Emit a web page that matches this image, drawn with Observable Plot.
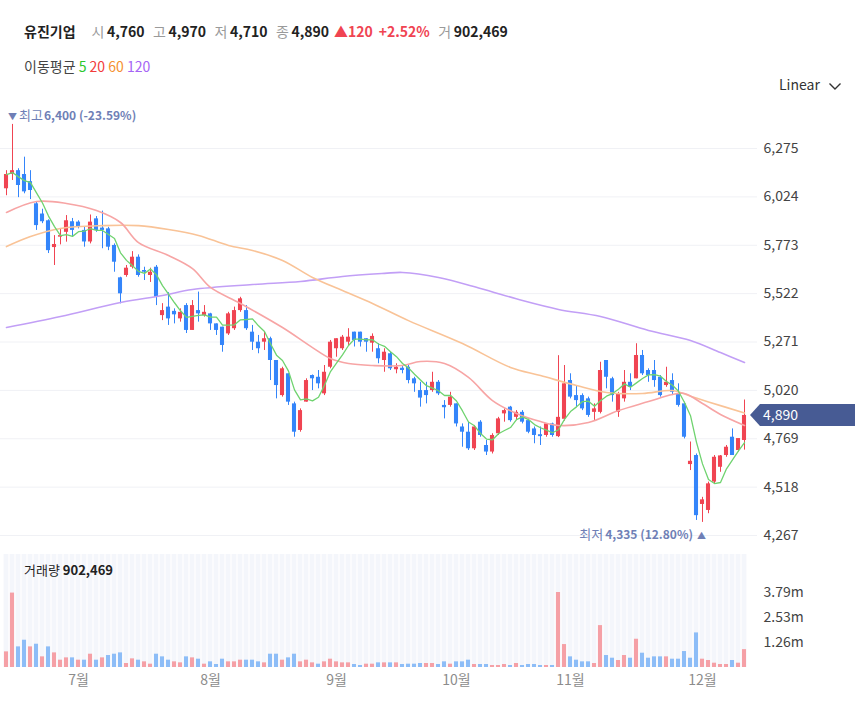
<!DOCTYPE html>
<html><head><meta charset="utf-8">
<script src="https://cdn.jsdelivr.net/npm/d3@7"></script>
<script src="https://cdn.jsdelivr.net/npm/@observablehq/plot@0.6"></script>
<style>
body{margin:0;background:#fff;font-family:"Noto Sans CJK KR","Noto Sans",sans-serif;}
#wrap{position:relative;width:855px;height:701px;overflow:hidden;background:#fff;}
.abs{position:absolute;white-space:nowrap;}
#h1{left:24px;top:21px;font-size:14px;line-height:20px;color:#222;}
#h1 .t{font-weight:700;}
#h1 .l{color:#9a9a9a;margin-left:8.5px;margin-right:2.5px;}
#h1 .n{font-weight:700;}
#h1 .r{color:#f04452;font-weight:700;}
#h2{left:24px;top:56px;font-size:14px;line-height:20px;color:#444;}
#lin{left:779px;top:74px;font-size:14px;line-height:20px;color:#333;}
#vl{left:24px;top:560px;font-size:13px;line-height:20px;color:#222;z-index:2;}
#pc{position:absolute;left:0;top:95px;}
#vc{position:absolute;left:0;top:550px;}
</style></head>
<body><div id="wrap">
<div id="pc"></div><div id="vc"></div>
<div class="abs" id="h1"><span class="t">유진기업</span><span class="l" style="margin-left:16px">시</span><span class="n">4,760</span><span class="l">고</span><span class="n">4,970</span><span class="l">저</span><span class="n">4,710</span><span class="l">종</span><span class="n">4,890</span><span class="r" style="margin-left:5px">▲120</span><span class="r" style="margin-left:6px">+2.52%</span><span class="l">거</span><span class="n">902,469</span></div>
<div class="abs" id="h2">이동평균 <span style="color:#2cc72c">5</span> <span style="color:#f23c3c">20</span> <span style="color:#f5902f">60</span> <span style="color:#a564f5">120</span></div>
<div class="abs" id="lin">Linear <svg width="14" height="10" style="margin-left:5px;vertical-align:middle"><polyline points="1.5,2.5 7,8 12.5,2.5" fill="none" stroke="#333" stroke-width="1.4"/></svg></div>
<div class="abs" id="vl">거래량 <b>902,469</b></div>
</div>
<script>
// ---- data ----
const open  = [6066,6140,6160,6140,6103,5988,5935,5900,5761,5815, 5840,5895,5893,5850,5790,5910,5862,5858,5772,5604,
               5616,5659,5711,5642,5616,5659,5408,5452,5430,5391, 5460,5331,5434,5408,5417,5365,5348,5313,5340,5434,
               5434,5322,5270,5270,5288,5175,4993,5106,4950,4812, 4959,5097,5088,5002,5140,5236,5236,5270,5322,5322,
               5288,5265,5236,5175,5210,5127,5135,5140,5080,5019, 5019,5019,5062,4942,4942,4950,4830,4803,4717,4855,
               4734,4700,4795,4898,4933,4880,4906,4863,4820,4790, 4786,4846,4780,4870,5071,4993,4993,4976,4906,4906,
               5175,5080,4906,4976,5062,5080,5201,5123,5123,5088, 5045,5071,5002,4950,4635,4682,4428,4397,4544,4621,
               4682,4777,4708,4760];
const high  = [6160,6400,6170,6230,6160,5995,5960,5905,5823,5860, 5927,5912,5900,5866,5930,5922,5950,5866,5780,5607,
               5668,5740,5723,5659,5654,5668,5470,5527,5443,5443, 5470,5486,5530,5460,5420,5365,5348,5425,5452,5503,
               5460,5357,5305,5322,5296,5175,5140,5106,4959,4924, 5080,5100,5123,5149,5279,5288,5305,5340,5322,5322,
               5288,5313,5262,5236,5218,5158,5149,5149,5088,5062, 5062,5114,5071,4967,5010,4950,4846,4855,4838,4863,
               4760,4795,4880,4924,4937,4915,4915,4872,4830,4830, 4846,4850,5200,5149,5106,5045,5002,4985,4950,5166,
               5175,5088,5010,5123,5106,5262,5227,5132,5175,5097, 5140,5106,5054,4959,4752,4690,4465,4544,4682,4682,
               4734,4820,4768,4970];
const low   = [6030,6109,6020,6040,6010,5850,5885,5730,5668,5775, 5789,5815,5858,5763,5780,5840,5755,5745,5633,5469,
               5607,5650,5607,5590,5580,5460,5382,5357,5365,5374, 5315,5331,5374,5400,5331,5305,5218,5305,5331,5425,
               5331,5227,5210,5227,5071,4976,4985,4942,4777,4803, 4959,5019,5028,4993,5132,5192,5227,5253,5245,5245,
               5218,5218,5158,5114,5123,5106,5106,5054,5010,4933, 4950,5010,4993,4872,4933,4830,4725,4708,4708,4777,
               4682,4690,4786,4855,4855,4863,4846,4795,4743,4734, 4777,4777,4775,4860,4976,4933,4915,4880,4863,4898,
               5028,4959,4880,4959,5019,5080,5097,5062,5036,4985, 5036,4993,4933,4768,4604,4345,4335,4380,4535,4595,
               4673,4682,4700,4710];
const close = [6140,6160,6083,6050,6057,5875,5895,5745,5777,5823, 5900,5850,5866,5790,5893,5850,5850,5763,5685,5521,
               5654,5711,5616,5633,5633,5503,5434,5391,5412,5425, 5331,5460,5417,5425,5365,5331,5253,5417,5434,5495,
               5340,5270,5236,5288,5175,5045,5132,4959,4803,4915, 5071,5080,5054,5114,5270,5288,5296,5296,5279,5270,
               5270,5300,5184,5218,5132,5140,5123,5071,5054,4980, 4993,5062,5002,4930,4985,4846,4803,4717,4830,4786,
               4700,4786,4872,4915,4863,4906,4855,4803,4786,4780, 4846,4786,4880,5054,4985,4967,4924,4890,4924,5123,
               5088,4993,5002,5062,5036,5201,5106,5097,5071,4993, 5062,5010,4942,4777,4652,4370,4452,4535,4673,4680,
               4725,4682,4770,4890];
const volume = [790,3760,1042,1378,1042,1176,538,1042,739,370, 487,487,370,370,672,370,487,605,672,739,
                202,437,370,286,168,672,538,370,286,235, 538,487,420,168,286,151,420,286,286,370,
                370,370,286,235,672,672,370,487,672,286, 370,235,168,286,420,286,235,235,151,100,
                168,168,235,235,235,235,151,168,168,202, 202,202,151,286,168,286,286,370,151,151,
                151,100,100,151,100,202,100,151,151,100, 100,100,3789,1159,538,370,286,286,202,2117,
                605,470,353,605,470,1428,722,470,538,538, 538,420,420,806,470,1747,420,353,218,151,
                151,353,218,902.469].map(v => v * 1000);
// moving averages (index, value)
const ma20Idx = [0,5,10,15,19,22,27,31,34,39,46,51,54,57,61,66,69,73,77,81,85,89,92,97,102,107,111,113,116,119,123];
const ma20Val = [5943,6000,5990,5953,5891,5787,5720,5652,5554,5471,5346,5242,5185,5159,5149,5149,5170,5159,5087,4967,4900,4858,4838,4853,4915,4962,4999,5004,4952,4895,4838];
const ma60Idx = [0,4,9,16,22,27,32,37,41,46,51,56,61,67,76,84,89,95,100,106,111,114,117,123];
const ma60Val = [5766,5818,5860,5875,5875,5855,5824,5772,5746,5694,5606,5538,5471,5382,5263,5139,5097,5045,5009,5004,5019,4990,4960,4903];
const ma120Idx = [0,9,19,26,31,41,49,56,63,66,72,79,86,92,99,107,114,119,123];
const ma120Val = [5346,5403,5476,5512,5543,5569,5585,5611,5627,5632,5606,5549,5486,5440,5403,5331,5279,5216,5165];
const yTicks = [4267,4518,4769,5020,5271,5522,5773,6024,6275];
const volTicks = [1263000,2526000,3789000];
const monthLabels = ["7월","8월","9월","10월","11월","12월"];
const monthIdx = [12,34,55,75,94,116];

// ---- build ----
const RED = "#f04452", BLUE = "#3485fa";
const N = close.length;
const data = close.map((c, i) => ({
  i, open: open[i], high: high[i], low: low[i], close: c, vol: volume[i],
  up: c >= open[i], volUp: i === 0 ? true : c >= close[i - 1]
}));
const ma = (idx, val) => idx.map((i, k) => ({i, v: val[k]}));
const font = '"Noto Sans CJK KR","Noto Sans",sans-serif';
const PH = 455;
// y mapping: tick 6275 at 53px, 48.375px per 251
const yHi = 6275 + 53 / 48.375 * 251, yLo = 6275 - (PH - 53) / 48.375 * 251;

const price = Plot.plot({
  width: 855, height: PH, marginLeft: 0, marginRight: 98, marginTop: 0, marginBottom: 0,
  style: {fontFamily: font, fontSize: "14px", color: "#444", background: "transparent", overflow: "visible"},
  x: {type: "linear", domain: [-0.5, N - 0.5], range: [3, 747], axis: null},
  y: {domain: [yLo, yHi], range: [PH, 0]},
  color: {type: "identity"},
  marks: [
    Plot.ruleY(yTicks, {stroke: "#f0f1f5"}),
    Plot.axisY({anchor: "right", ticks: yTicks, tickSize: 0, tickPadding: 6, tickFormat: d3.format(","), label: null, fontSize: 14, color: "#444"}),
    Plot.ruleX(data, {x: "i", y1: "low", y2: "high", stroke: d => d.up ? RED : BLUE, strokeWidth: 1}),
    Plot.rect(data, {x1: d => d.i - 0.34, x2: d => d.i + 0.34, y1: "open", y2: "close", fill: d => d.up ? RED : BLUE}),
    Plot.line(ma(ma120Idx, ma120Val), {x: "i", y: "v", stroke: "#c29ff6", strokeWidth: 1.6, curve: "catmull-rom"}),
    Plot.line(ma(ma60Idx, ma60Val), {x: "i", y: "v", stroke: "#f9c397", strokeWidth: 1.6, curve: "catmull-rom"}),
    Plot.line(ma(ma20Idx, ma20Val), {x: "i", y: "v", stroke: "#f7a5a5", strokeWidth: 1.6, curve: "catmull-rom"}),
    Plot.lineY(data, Plot.windowY({k: 5, anchor: "end"}, {x: "i", y: "close", stroke: "#6fd36f", strokeWidth: 1.3}))
  ]
});
document.getElementById("pc").appendChild(price);

// annotations driven by the scales
const xs = price.scale("x"), ys = price.scale("y");
const svgP = d3.select(price);
const last = data[N - 1];
const hiD = data.reduce((a, b) => b.high > a.high ? b : a);
const loD = data.reduce((a, b) => b.low < a.low ? b : a);
const pct = v => { const p = (last.close - v) / v * 100; return (p >= 0 ? "" : "-") + Math.abs(p).toFixed(2) + "%"; };
const ANN = "#6f7fb6";
{
  const cx = xs.apply(hiD.i), cy = ys.apply(hiD.high) - 8;
  const t = svgP.append("text").attr("x", cx - 4).attr("y", cy + 4.5).attr("fill", ANN).attr("text-anchor", "start")
    .style("font-family", font).style("font-size", "13px");
  t.append("tspan").text("▼").style("font-size", "9px");
  t.append("tspan").attr("dx", 2).text("최고");
  t.append("tspan").attr("dx", 1).style("font-weight", "700").style("font-size", "12px").text(d3.format(",")(hiD.high) + " (" + pct(hiD.high) + ")");
}
{
  const cx = xs.apply(loD.i), cy = ys.apply(loD.low) + 13;
  const t = svgP.append("text").attr("x", cx + 4).attr("y", cy + 4.5).attr("fill", ANN).attr("text-anchor", "end")
    .style("font-family", font).style("font-size", "13px");
  t.append("tspan").text("최저");
  t.append("tspan").attr("dx", 2).style("font-weight", "700").style("font-size", "12px").text(d3.format(",")(loD.low) + " (" + pct(loD.low) + ")");
  t.append("tspan").attr("dx", 4).text("▲").style("font-size", "9px");
}
{
  const y0 = ys.apply(last.close);
  const g = svgP.append("g");
  g.append("path").attr("fill", "#475b94")
    .attr("d", `M750,${y0} L760,${y0 - 11} L855,${y0 - 11} L855,${y0 + 11} L760,${y0 + 11} Z`);
  g.append("text").attr("x", 763).attr("y", y0 + 5).attr("fill", "#fff").attr("text-anchor", "start")
    .style("font-family", font).style("font-size", "14px").text(d3.format(",")(last.close));
}

const VH = 151, VB = 117, VTOP = 4;
const vMax = (VB - VTOP) / 25 * 1263000;
const vol = Plot.plot({
  width: 855, height: VH, marginLeft: 0, marginRight: 98, marginTop: 0, marginBottom: VH - VB,
  style: {fontFamily: font, fontSize: "14px", color: "#444", background: "transparent"},
  x: {type: "linear", domain: [-0.5, N - 0.5], range: [3, 747]},
  y: {domain: [0, vMax], range: [VB, VTOP]},
  color: {type: "identity"},
  marks: [
    Plot.rect(data, {x1: d => d.i - 0.4, x2: d => d.i + 0.4, y1: 0, y2: vMax, fill: "#f4f6fb"}),
    Plot.rect(data, {x1: d => d.i - 0.34, x2: d => d.i + 0.34, y1: 0, y2: "vol", fill: d => d.volUp ? "#f5a0a6" : "#8dbdf7"}),
    Plot.axisY({anchor: "right", ticks: volTicks, tickSize: 0, tickPadding: 6, tickFormat: d => (d / 1e6).toFixed(2) + "m", label: null, fontSize: 14, color: "#444"}),
    Plot.axisX({ticks: monthIdx, tickSize: 0, tickPadding: 8, tickFormat: d => monthLabels[monthIdx.indexOf(d)], label: null, fontSize: 14, color: "#8c8c8c"})
  ]
});
document.getElementById("vc").appendChild(vol);
</script>
</body></html>
